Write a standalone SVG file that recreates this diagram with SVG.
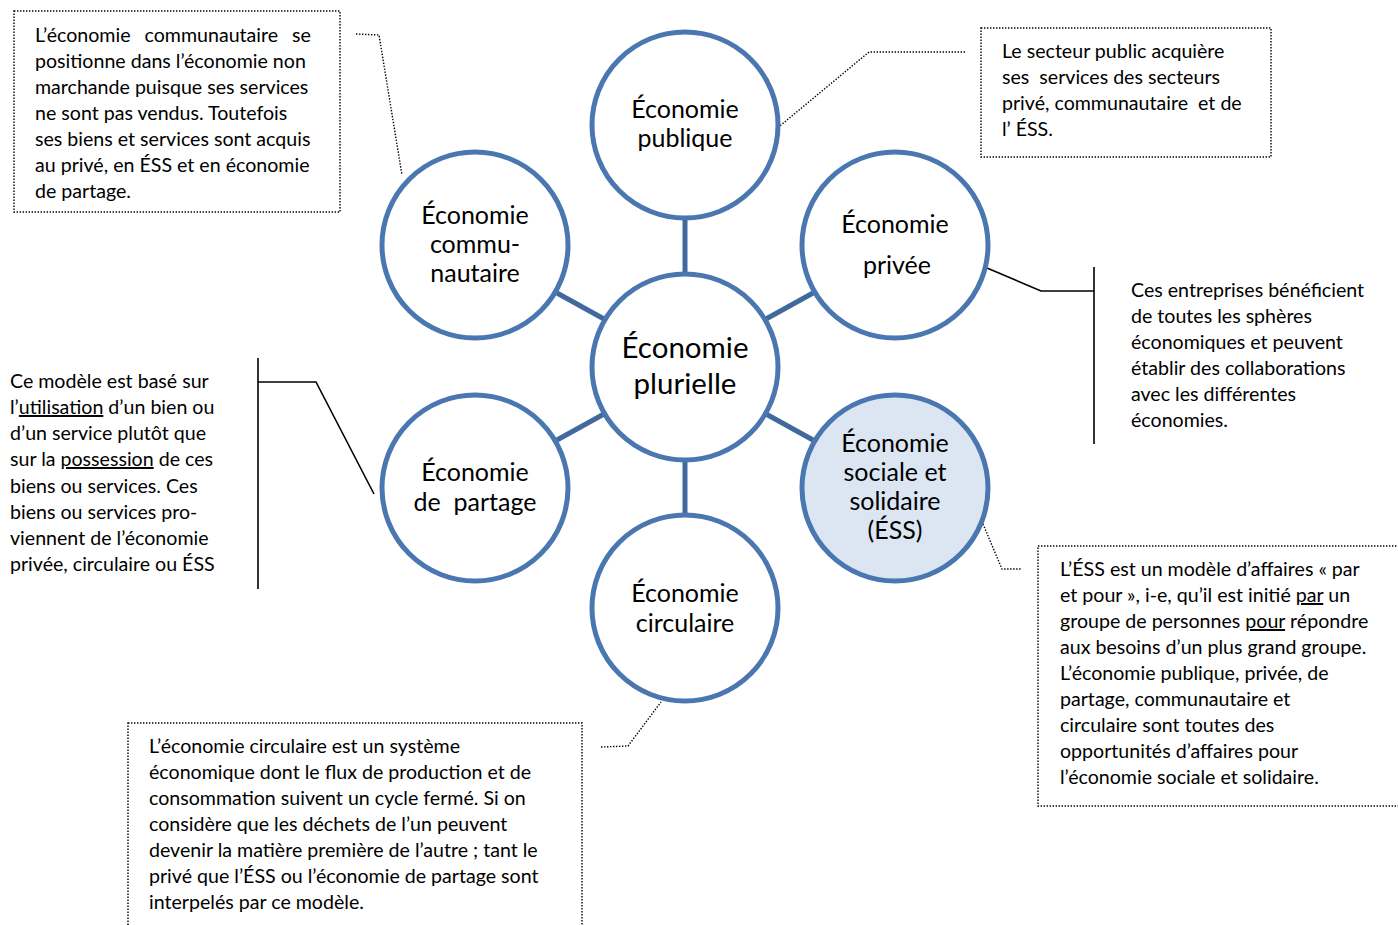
<svg xmlns="http://www.w3.org/2000/svg" width="1398" height="925" viewBox="0 0 1398 925">
  <style>
    .bg { fill: #ffffff; }
    .eco { fill: #ffffff; stroke: #4a77b0; stroke-width: 5; }
    .eco.ess { fill: #dce6f2; }
    .spoke { stroke: #41699d; stroke-width: 5; fill: none; }
    .dotted { fill: none; stroke: #000000; stroke-width: 1.4; stroke-dasharray: 1.4 1.6; }
    .solid { fill: none; stroke: #000000; stroke-width: 1.6; }
    .label { font-family: Lato, "Open Sans", sans-serif; font-size: 25px; fill: #000000; text-anchor: middle; white-space: pre; }
    .label.big { font-size: 29.5px; }
    .note { font-family: Lato, "Open Sans", sans-serif; font-size: 19.6px; fill: #000000; white-space: pre; }
    .u { text-decoration: underline; }
  </style>

  <rect class="bg" x="0" y="0" width="1398" height="925"/>

  <!-- spokes and callout leaders -->
  <g id="connectors">
    <line class="spoke" x1="685" y1="218" x2="685" y2="273"/>
    <line class="spoke" x1="685" y1="461" x2="685" y2="516"/>
    <line class="spoke" x1="557" y1="293" x2="604" y2="319"/>
    <line class="spoke" x1="766" y1="319" x2="813" y2="293"/>
    <line class="spoke" x1="557" y1="440" x2="604" y2="414"/>
    <line class="spoke" x1="766" y1="414" x2="813" y2="440"/>

    <polyline class="dotted" points="356,34 379,35 402,175"/>
    <polyline class="dotted" points="965,52 869,52 775,130"/>
    <polyline class="solid" points="987,268 1041,291 1094,291"/>
    <line class="solid" x1="1094" y1="267" x2="1094" y2="444"/>
    <line class="solid" x1="258" y1="358" x2="258" y2="589"/>
    <polyline class="solid" points="258,382 316,382 374,494"/>
    <polyline class="dotted" points="983,524 1002,569 1021,569"/>
    <polyline class="dotted" points="601,747 628,746 661,702"/>
  </g>

  <g id="eco-plurielle">
    <circle class="eco" cx="685" cy="367" r="93"/>
    <text class="label big" x="685" y="358">Économie</text>
    <text class="label big" x="685" y="394">plurielle</text>
  </g>

  <g id="eco-publique">
    <circle class="eco" cx="685" cy="125" r="93"/>
    <text class="label" x="685" y="118">Économie</text>
    <text class="label" x="685" y="147">publique</text>
  </g>

  <g id="eco-communautaire">
    <circle class="eco" cx="475" cy="245" r="93"/>
    <text class="label" x="475" y="224">Économie</text>
    <text class="label" x="475" y="253">commu-</text>
    <text class="label" x="475" y="282">nautaire</text>
  </g>

  <g id="eco-privee">
    <circle class="eco" cx="895" cy="245" r="93"/>
    <text class="label" x="895" y="233">Économie</text>
    <text class="label" x="897" y="274">privée</text>
  </g>

  <g id="eco-partage">
    <circle class="eco" cx="475" cy="488" r="93"/>
    <text class="label" x="475" y="481">Économie</text>
    <text class="label" x="475" y="511">de  partage</text>
  </g>

  <g id="eco-ess">
    <circle class="eco ess" cx="895" cy="488" r="93"/>
    <text class="label" x="895" y="452">Économie</text>
    <text class="label" x="895" y="481">sociale et</text>
    <text class="label" x="895" y="510">solidaire</text>
    <text class="label" x="895" y="539">(ÉSS)</text>
  </g>

  <g id="eco-circulaire">
    <circle class="eco" cx="685" cy="608" r="93"/>
    <text class="label" x="685" y="602">Économie</text>
    <text class="label" x="685" y="632">circulaire</text>
  </g>

  <g id="note-communautaire">
    <rect class="dotted" x="14" y="11" width="326" height="201"/>
    <text class="note" x="35" y="42" word-spacing="9">L’économie communautaire se</text>
    <text class="note" x="35" y="68">positionne dans l’économie non</text>
    <text class="note" x="35" y="94">marchande puisque ses services</text>
    <text class="note" x="35" y="120">ne sont pas vendus. Toutefois</text>
    <text class="note" x="35" y="146">ses biens et services sont acquis</text>
    <text class="note" x="35" y="172">au privé, en ÉSS et en économie</text>
    <text class="note" x="35" y="198">de partage.</text>
  </g>

  <g id="note-publique">
    <rect class="dotted" x="981" y="28" width="290" height="129"/>
    <text class="note" x="1002" y="58">Le secteur public acquière</text>
    <text class="note" x="1002" y="84">ses  services des secteurs</text>
    <text class="note" x="1002" y="110">privé, communautaire  et de</text>
    <text class="note" x="1002" y="136">l’ ÉSS.</text>
  </g>

  <g id="note-privee">
    <text class="note" x="1131" y="297">Ces entreprises bénéficient</text>
    <text class="note" x="1131" y="323">de toutes les sphères</text>
    <text class="note" x="1131" y="349">économiques et peuvent</text>
    <text class="note" x="1131" y="375">établir des collaborations</text>
    <text class="note" x="1131" y="401">avec les différentes</text>
    <text class="note" x="1131" y="427">économies.</text>
  </g>

  <g id="note-partage">
    <text class="note" x="10" y="388">Ce modèle est basé sur</text>
    <text class="note" x="10" y="414">l’<tspan class="u">utilisation</tspan> d’un bien ou</text>
    <text class="note" x="10" y="440">d’un service plutôt que</text>
    <text class="note" x="10" y="466">sur la <tspan class="u">possession</tspan> de ces</text>
    <text class="note" x="10" y="493">biens ou services. Ces</text>
    <text class="note" x="10" y="519">biens ou services pro-</text>
    <text class="note" x="10" y="545">viennent de l’économie</text>
    <text class="note" x="10" y="571">privée, circulaire ou ÉSS</text>
  </g>

  <g id="note-ess">
    <rect class="dotted" x="1038" y="546" width="364" height="260"/>
    <text class="note" x="1060" y="576">L’ÉSS est un modèle d’affaires « par</text>
    <text class="note" x="1060" y="602">et pour », i-e, qu’il est initié <tspan class="u">par</tspan> un</text>
    <text class="note" x="1060" y="628">groupe de personnes <tspan class="u">pour</tspan> répondre</text>
    <text class="note" x="1060" y="654">aux besoins d’un plus grand groupe.</text>
    <text class="note" x="1060" y="680">L’économie publique, privée, de</text>
    <text class="note" x="1060" y="706">partage, communautaire et</text>
    <text class="note" x="1060" y="732">circulaire sont toutes des</text>
    <text class="note" x="1060" y="758">opportunités d’affaires pour</text>
    <text class="note" x="1060" y="784">l’économie sociale et solidaire.</text>
  </g>

  <g id="note-circulaire">
    <rect class="dotted" x="128" y="723" width="454" height="220"/>
    <text class="note" x="149" y="753">L’économie circulaire est un système</text>
    <text class="note" x="149" y="779">économique dont le flux de production et de</text>
    <text class="note" x="149" y="805">consommation suivent un cycle fermé. Si on</text>
    <text class="note" x="149" y="831">considère que les déchets de l’un peuvent</text>
    <text class="note" x="149" y="857">devenir la matière première de l’autre ; tant le</text>
    <text class="note" x="149" y="883">privé que l’ÉSS ou l’économie de partage sont</text>
    <text class="note" x="149" y="909">interpelés par ce modèle.</text>
  </g>
</svg>
